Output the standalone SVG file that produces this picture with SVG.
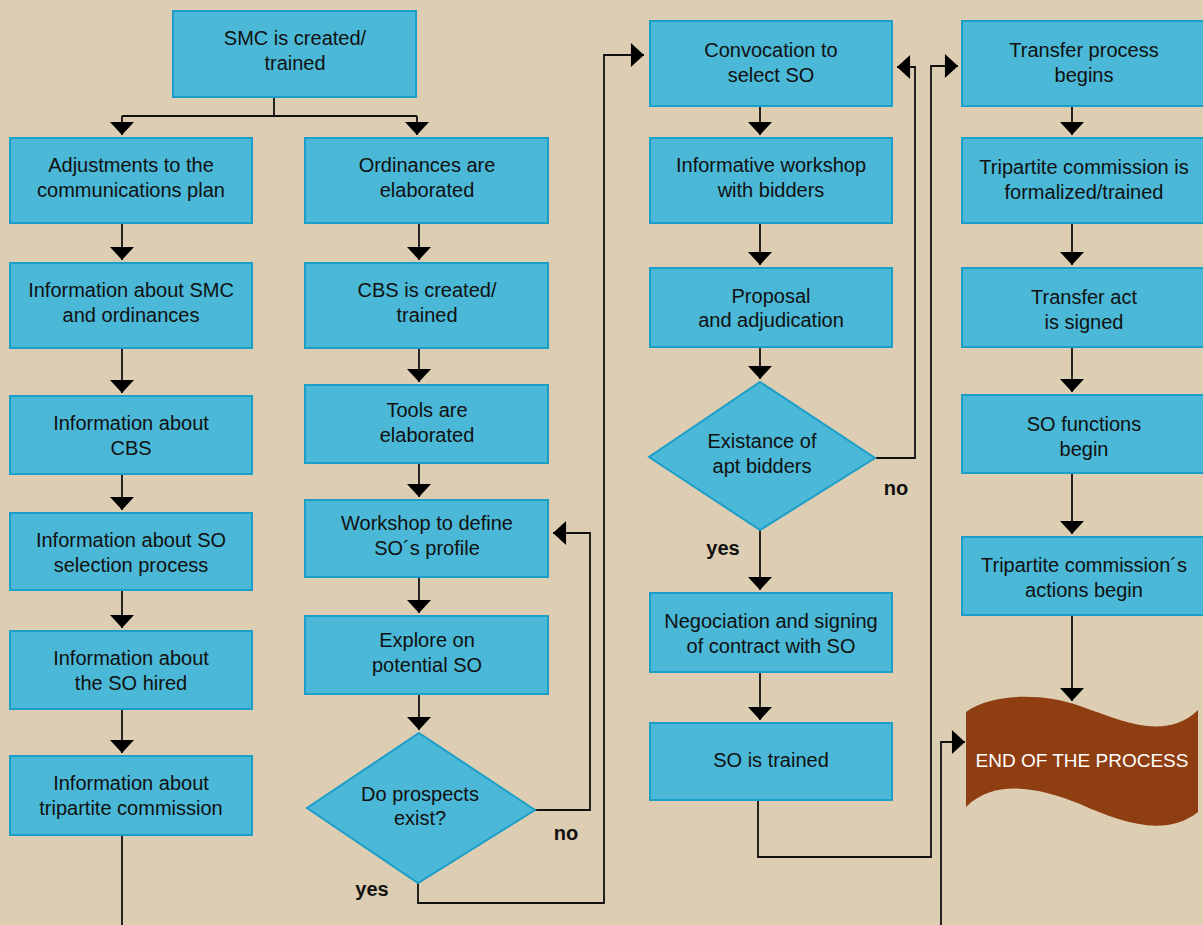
<svg xmlns="http://www.w3.org/2000/svg" width="1203" height="925" viewBox="0 0 1203 925">
<defs>
<style>
.box{fill:#4ab8d6;stroke:#1b9fc9;stroke-width:2}
.t{font-family:"Liberation Sans",Arial,sans-serif;font-size:20px;fill:#111;text-anchor:middle}
.lbl{font-family:"Liberation Sans",Arial,sans-serif;font-size:20px;font-weight:bold;fill:#111;text-anchor:middle}
.c{fill:none;stroke:#111;stroke-width:1.8}
</style>
<marker id="ah" markerUnits="userSpaceOnUse" markerWidth="24" markerHeight="24" viewBox="0 0 12 22" refX="12" refY="11" orient="auto">
<path d="M0,0 L12,11 L0,22 Z" fill="#000"/>
</marker>
</defs>
<rect width="1203" height="925" fill="#ddcdb2"/>

<g id="connectors">
<path class="c" d="M274,97 V116 M122,116 H417" />
<path class="c" d="M122,116 V135" marker-end="url(#ah)"/>
<path class="c" d="M417,116 V135" marker-end="url(#ah)"/>
<path class="c" d="M122,223 V260" marker-end="url(#ah)"/>
<path class="c" d="M122,348 V393" marker-end="url(#ah)"/>
<path class="c" d="M122,474 V510" marker-end="url(#ah)"/>
<path class="c" d="M122,590 V628" marker-end="url(#ah)"/>
<path class="c" d="M122,709 V753" marker-end="url(#ah)"/>
<path class="c" d="M122,835 V925"/>
<path class="c" d="M419,223 V260" marker-end="url(#ah)"/>
<path class="c" d="M419,348 V382" marker-end="url(#ah)"/>
<path class="c" d="M419,463 V497" marker-end="url(#ah)"/>
<path class="c" d="M419,577 V613" marker-end="url(#ah)"/>
<path class="c" d="M419,694 V730" marker-end="url(#ah)"/>
<path class="c" d="M535,810 H590 V533 H553" marker-end="url(#ah)"/>
<path class="c" d="M418,883 V903 H604 V55 H644" marker-end="url(#ah)"/>
<path class="c" d="M760,106 V135" marker-end="url(#ah)"/>
<path class="c" d="M760,223 V265" marker-end="url(#ah)"/>
<path class="c" d="M760,347 V379" marker-end="url(#ah)"/>
<path class="c" d="M876,458 H915 V67 H897" marker-end="url(#ah)"/>
<path class="c" d="M760,530 V590" marker-end="url(#ah)"/>
<path class="c" d="M760,672 V720" marker-end="url(#ah)"/>
<path class="c" d="M758,800 V857 H931 V66 H958" marker-end="url(#ah)"/>
<path class="c" d="M941,925 V742 H965" marker-end="url(#ah)"/>
<path class="c" d="M1072,106 V135" marker-end="url(#ah)"/>
<path class="c" d="M1072,223 V265" marker-end="url(#ah)"/>
<path class="c" d="M1072,347 V392" marker-end="url(#ah)"/>
<path class="c" d="M1072,473 V534" marker-end="url(#ah)"/>
<path class="c" d="M1072,615 V701" marker-end="url(#ah)"/>
</g>

<g id="n-smc"><rect class="box" x="173" y="11" width="243" height="86"/><text class="t" x="295" y="45">SMC is created/</text><text class="t" x="295" y="70">trained</text></g>

<g id="n-adjust"><rect class="box" x="10" y="138" width="242" height="85"/><text class="t" x="131" y="172">Adjustments to the</text><text class="t" x="131" y="197">communications plan</text></g>
<g id="n-info-smc"><rect class="box" x="10" y="263" width="242" height="85"/><text class="t" x="131" y="297">Information about SMC</text><text class="t" x="131" y="322">and ordinances</text></g>
<g id="n-info-cbs"><rect class="box" x="10" y="396" width="242" height="78"/><text class="t" x="131" y="430">Information about</text><text class="t" x="131" y="455">CBS</text></g>
<g id="n-info-sel"><rect class="box" x="10" y="513" width="242" height="77"/><text class="t" x="131" y="547">Information about SO</text><text class="t" x="131" y="572">selection process</text></g>
<g id="n-info-hired"><rect class="box" x="10" y="631" width="242" height="78"/><text class="t" x="131" y="665">Information about</text><text class="t" x="131" y="690">the SO hired</text></g>
<g id="n-info-tri"><rect class="box" x="10" y="756" width="242" height="79"/><text class="t" x="131" y="790">Information about</text><text class="t" x="131" y="815">tripartite commission</text></g>

<g id="n-ordin"><rect class="box" x="305" y="138" width="243" height="85"/><text class="t" x="427" y="172">Ordinances are</text><text class="t" x="427" y="197">elaborated</text></g>
<g id="n-cbs"><rect class="box" x="305" y="263" width="243" height="85"/><text class="t" x="427" y="297">CBS is created/</text><text class="t" x="427" y="322">trained</text></g>
<g id="n-tools"><rect class="box" x="305" y="385" width="243" height="78"/><text class="t" x="427" y="417">Tools are</text><text class="t" x="427" y="442">elaborated</text></g>
<g id="n-workshop"><rect class="box" x="305" y="500" width="243" height="77"/><text class="t" x="427" y="530">Workshop to define</text><text class="t" x="427" y="555">SO´s profile</text></g>
<g id="n-explore"><rect class="box" x="305" y="616" width="243" height="78"/><text class="t" x="427" y="647">Explore on</text><text class="t" x="427" y="672">potential SO</text></g>
<g id="n-prospects"><polygon class="box" points="419,733 535,810 418,883 307,808"/><text class="t" x="420" y="801">Do prospects</text><text class="t" x="420" y="825">exist?</text></g>
<text class="lbl" x="566" y="840">no</text>
<text class="lbl" x="372" y="896">yes</text>

<g id="n-convoc"><rect class="box" x="650" y="21" width="242" height="85"/><text class="t" x="771" y="57">Convocation to</text><text class="t" x="771" y="82">select SO</text></g>
<g id="n-informative"><rect class="box" x="650" y="138" width="242" height="85"/><text class="t" x="771" y="172">Informative workshop</text><text class="t" x="771" y="197">with bidders</text></g>
<g id="n-proposal"><rect class="box" x="650" y="268" width="242" height="79"/><text class="t" x="771" y="303">Proposal</text><text class="t" x="771" y="327">and adjudication</text></g>
<g id="n-bidders"><polygon class="box" points="760,382 875,458 760,530 649,457"/><text class="t" x="762" y="448">Existance of</text><text class="t" x="762" y="473">apt bidders</text></g>
<text class="lbl" x="896" y="495">no</text>
<text class="lbl" x="723" y="555">yes</text>
<g id="n-negoc"><rect class="box" x="650" y="593" width="242" height="79"/><text class="t" x="771" y="628">Negociation and signing</text><text class="t" x="771" y="653">of contract with SO</text></g>
<g id="n-trained"><rect class="box" x="650" y="723" width="242" height="77"/><text class="t" x="771" y="767">SO is trained</text></g>

<g id="n-transfer"><rect class="box" x="962" y="21" width="250" height="85"/><text class="t" x="1084" y="57">Transfer process</text><text class="t" x="1084" y="82">begins</text></g>
<g id="n-tri-form"><rect class="box" x="962" y="138" width="250" height="85"/><text class="t" x="1084" y="174">Tripartite commission is</text><text class="t" x="1084" y="199">formalized/trained</text></g>
<g id="n-act"><rect class="box" x="962" y="268" width="250" height="79"/><text class="t" x="1084" y="304">Transfer act</text><text class="t" x="1084" y="329">is signed</text></g>
<g id="n-functions"><rect class="box" x="962" y="395" width="250" height="78"/><text class="t" x="1084" y="431">SO functions</text><text class="t" x="1084" y="456">begin</text></g>
<g id="n-tri-act"><rect class="box" x="962" y="537" width="250" height="78"/><text class="t" x="1084" y="572">Tripartite commission´s</text><text class="t" x="1084" y="597">actions begin</text></g>

<g id="n-end"><path d="M966,712 C990,694 1040,692 1080,706 C1120,720 1165,742 1198,710 L1198,812 C1165,838 1120,822 1080,804 C1040,788 995,778 966,807 Z" fill="#8f3e12"/><text x="1082" y="767" font-family="'Liberation Sans',Arial,sans-serif" font-size="19" fill="#fff" text-anchor="middle">END OF THE PROCESS</text></g>
</svg>
